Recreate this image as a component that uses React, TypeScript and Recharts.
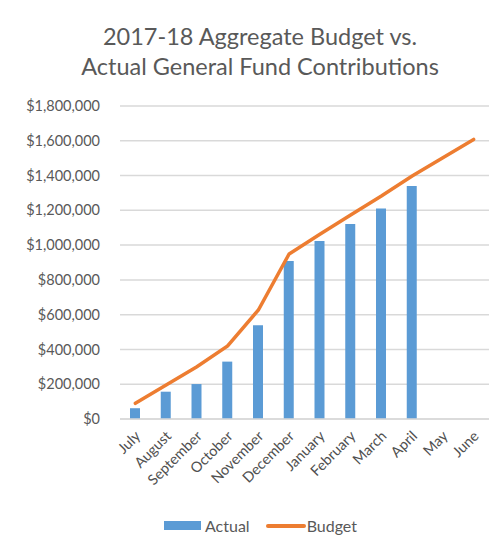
import React from 'react';
import { ComposedChart, Bar, Line, XAxis, YAxis, CartesianGrid, Legend } from 'recharts';

const months = ['July', 'August', 'September', 'October', 'November', 'December', 'January', 'February', 'March', 'April', 'May', 'June'];
const actual: (number | null)[] = [62000, 157000, 201000, 330000, 539000, 909000, 1024000, 1121000, 1210000, 1340000, null, null];
const budget = [90000, 196000, 301000, 420000, 627000, 949000, 1062000, 1173000, 1282000, 1397000, 1503000, 1608000];
const yTicks = [0, 200000, 400000, 600000, 800000, 1000000, 1200000, 1400000, 1600000, 1800000];

const data = months.map((m, i) => ({ month: m, Actual: actual[i], Budget: budget[i] }));

const font = 'Lato, "Open Sans", sans-serif';
const grey = '#595959';

const fmtMoney = (v: number) => '$' + v.toLocaleString('en-US');

const MonthTick = (props: any) => {
    const { x, y, payload } = props;
    return (
        <text
            x={x + 6}
            y={y + 10}
            textAnchor="end"
            transform={`rotate(-45, ${x + 6}, ${y + 10})`}
            fontSize={14.5}
            fontFamily={font}
            fill="#505050"
        >
            {payload.value}
        </text>
    );
};

const LegendContent = () => (
    <div style={{ display: 'flex', justifyContent: 'center', alignItems: 'center', fontFamily: font, fontSize: 16, color: grey, paddingLeft: 18 }}>
        <span style={{ display: 'inline-block', width: 37, height: 9, background: '#5B9BD5', marginRight: 4 }} />
        <span style={{ marginRight: 16 }}>Actual</span>
        <span style={{ display: 'inline-block', width: 40, height: 4, background: '#ED7D31', borderRadius: 2, marginRight: 1 }} />
        <span>Budget</span>
    </div>
);

export default function App() {
    return (
        <div style={{ position: 'absolute', left: 0, top: 0, width: 503, height: 535, background: '#fff' }}>
            <div
                style={{
                    position: 'absolute',
                    top: 21,
                    left: 0,
                    width: 520,
                    textAlign: 'center',
                    fontFamily: font,
                    fontSize: 23.5,
                    lineHeight: '30px',
                    color: grey,
                }}
            >
                2017-18 Aggregate Budget vs.
                <br />
                Actual General Fund Contributions
            </div>
            <ComposedChart
                width={503}
                height={535}
                data={data}
                margin={{ top: 106, right: 14, bottom: 0, left: 0 }}
                barSize={10}
            >
                <CartesianGrid vertical={false} stroke="#D9D9D9" strokeWidth={1.5} />
                <XAxis
                    dataKey="month"
                    tick={<MonthTick />}
                    tickLine={false}
                    axisLine={{ stroke: '#D9D9D9', strokeWidth: 1.5 }}
                    interval={0}
                    height={92}
                />
                <YAxis
                    domain={[0, 1800000]}
                    ticks={yTicks}
                    tickFormatter={fmtMoney}
                    width={120}
                    tickLine={false}
                    axisLine={false}
                    tickSize={0}
                    tickMargin={20}
                    tick={{ fontSize: 14.5, fontFamily: font, fill: grey }}
                />
                <Legend
                    content={<LegendContent />}
                    verticalAlign="bottom"
                    height={24}
                    wrapperStyle={{ top: 516, left: 0, width: 503 }}
                />
                <Bar dataKey="Actual" fill="#5B9BD5" isAnimationActive={false} />
                <Line
                    dataKey="Budget"
                    stroke="#ED7D31"
                    strokeWidth={3.5}
                    dot={false}
                    type="linear"
                    strokeLinecap="round"
                    isAnimationActive={false}
                />
            </ComposedChart>
        </div>
    );
}
